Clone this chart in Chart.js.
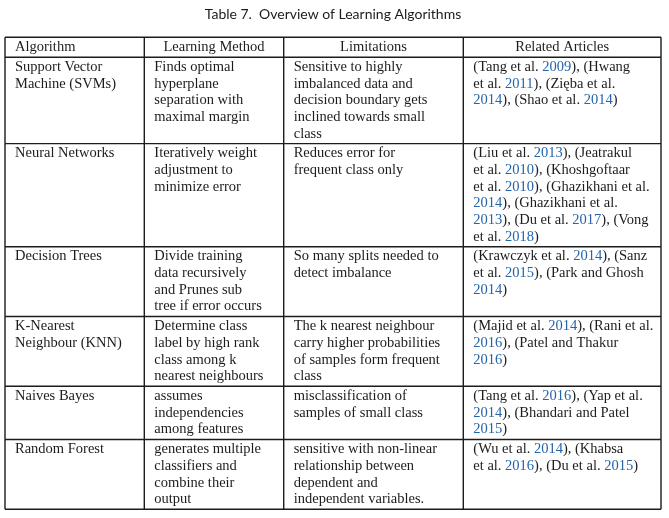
<!DOCTYPE html>
<html>
<head>
<meta charset="utf-8">
<title>Table 7. Overview of Learning Algorithms</title>
<script src="https://cdn.jsdelivr.net/npm/chart.js@4/dist/chart.umd.min.js"></script>
<style>
  html, body { margin: 0; padding: 0; background: #fff; }
  #table7 { display: block; }
</style>
</head>
<body>
<canvas id="table7" width="669" height="518"></canvas>
<script>
// table content, one entry per row, each cell already broken into its printed lines
const headers = ["Algorithm", "Learning Method", "Limitations", "Related Articles"];

const algorithms = [
  ["Support Vector", "Machine (SVMs)"],
  ["Neural Networks"],
  ["Decision Trees"],
  ["K-Nearest", "Neighbour (KNN)"],
  ["Naives Bayes"],
  ["Random Forest"],
];

const methods = [
  ["Finds optimal", "hyperplane", "separation with", "maximal margin"],
  ["Iteratively weight", "adjustment to", "minimize error"],
  ["Divide training", "data recursively", "and Prunes sub", "tree if error occurs"],
  ["Determine class", "label by high rank", "class among k", "nearest neighbours"],
  ["assumes", "independencies", "among features"],
  ["generates multiple", "classifiers and", "combine their", "output"],
];

const limitations = [
  ["Sensitive to highly", "imbalanced data and", "decision boundary gets", "inclined towards small", "class"],
  ["Reduces error for", "frequent class only"],
  ["So many splits needed to", "detect imbalance"],
  ["The k nearest neighbour", "carry higher probabilities", "of samples form frequent", "class"],
  ["misclassification of", "samples of small class"],
  ["sensitive with non-linear", "relationship between", "dependent and", "independent variables."],
];

const articles = [
  ["(Tang et al. 2009), (Hwang", "et al. 2011), (Zięba et al.", "2014), (Shao et al. 2014)"],
  ["(Liu et al. 2013), (Jeatrakul", "et al. 2010), (Khoshgoftaar", "et al. 2010), (Ghazikhani et al.",
   "2014), (Ghazikhani et al.", "2013), (Du et al. 2017), (Vong", "et al. 2018)"],
  ["(Krawczyk et al. 2014), (Sanz", "et al. 2015), (Park and Ghosh", "2014)"],
  ["(Majid et al. 2014), (Rani et al.", "2016), (Patel and Thakur", "2016)"],
  ["(Tang et al. 2016), (Yap et al.", "2014), (Bhandari and Patel", "2015)"],
  ["(Wu et al. 2014), (Khabsa", "et al. 2016), (Du et al. 2015)"],
];

// layout
const colWidths = [139.3, 139.4, 179.6, 197.7];
const rowPad = 0.2;        // extra space per row, in line units
const firstLine = 0.6;     // offset of first text line from the row top, in line units
const cellPadX = 10;
const ink = "#1c1c1c";
const linkBlue = "#2464aa";
const bodyFont = '14.5px "Liberation Serif", "DejaVu Serif", serif';

const columns = [algorithms, methods, limitations, articles];

const colEdges = [0];
colWidths.forEach((w) => colEdges.push(colEdges[colEdges.length - 1] + w));
const tableWidth = colEdges[colEdges.length - 1];

// row tops in line units: header first, then each body row
const rowLines = [1].concat(algorithms.map((_, i) => Math.max(...columns.map((c) => c[i].length))));
const rowEdges = [0];
rowLines.forEach((n) => rowEdges.push(rowEdges[rowEdges.length - 1] + n + rowPad));
const tableHeight = rowEdges[rowEdges.length - 1];

function rule(points) {
  return {
    data: points,
    showLine: true,
    borderColor: ink,
    borderWidth: 1.4,
    pointRadius: 0,
    pointHoverRadius: 0,
    clip: false,
  };
}

const rules = [];
rowEdges.forEach((y) => rules.push(rule([{ x: 0, y: y }, { x: tableWidth, y: y }])));
colEdges.forEach((x) => rules.push(rule([{ x: x, y: 0 }, { x: x, y: tableHeight }])));

// draws one line, painting the years in link blue
function drawLine(ctx, text, x, y) {
  const parts = text.split(/(\d{4})/);
  let cx = x;
  parts.forEach((p) => {
    if (!p) return;
    ctx.fillStyle = /^\d{4}$/.test(p) ? linkBlue : ink;
    ctx.fillText(p, cx, y);
    cx += ctx.measureText(p).width;
  });
}

const cellText = {
  id: "cellText",
  afterDatasetsDraw(chart) {
    const { ctx, scales } = chart;
    const xs = scales.x;
    const ys = scales.y;
    ctx.save();
    ctx.font = bodyFont;
    ctx.textBaseline = "middle";

    // header
    headers.forEach((h, c) => {
      const y = ys.getPixelForValue(rowEdges[0] + firstLine);
      ctx.fillStyle = ink;
      if (c === 0) {
        ctx.textAlign = "left";
        ctx.fillText(h, xs.getPixelForValue(colEdges[c] + cellPadX), y);
      } else {
        ctx.textAlign = "center";
        ctx.fillText(h, xs.getPixelForValue((colEdges[c] + colEdges[c + 1]) / 2), y);
      }
    });

    // body
    ctx.textAlign = "left";
    algorithms.forEach((_, r) => {
      columns.forEach((col, c) => {
        col[r].forEach((line, i) => {
          const x = xs.getPixelForValue(colEdges[c] + cellPadX);
          const y = ys.getPixelForValue(rowEdges[r + 1] + firstLine + i);
          drawLine(ctx, line, x, y);
        });
      });
    });
    ctx.restore();
  },
};

new Chart(document.getElementById("table7"), {
  type: "scatter",
  data: { datasets: rules },
  options: {
    responsive: false,
    animation: false,
    events: [],
    layout: {
      padding: { left: 5, right: 8, top: 0, bottom: 8.7 },
    },
    scales: {
      x: { type: "linear", display: false, min: 0, max: tableWidth },
      y: { type: "linear", display: false, min: 0, max: tableHeight, reverse: true },
    },
    plugins: {
      legend: { display: false },
      tooltip: { enabled: false },
      title: {
        display: true,
        text: "Table 7.  Overview of Learning Algorithms",
        color: ink,
        font: { family: "Lato, 'Open Sans', sans-serif", size: 14, weight: "normal" },
        padding: { top: 6, bottom: 14.5 },
      },
    },
  },
  plugins: [cellText],
});
</script>
</body>
</html>
